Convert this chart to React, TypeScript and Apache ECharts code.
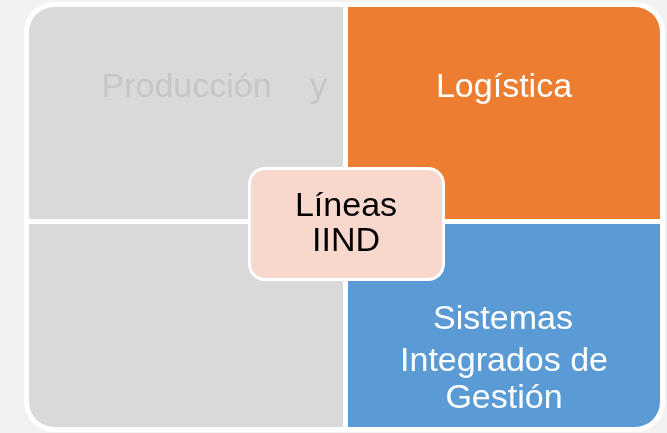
import React, { useEffect, useRef } from "react";
import * as echarts from "echarts";

// Quadrant labels (lines) and the central label
const quadrantNames = ["Producción y", "Logística", "", "Sistemas Integrados de Gestión"];
const topLeftWords = ["Producción", "y"];
const topRightLines = ["Logística"];
const bottomRightLines = ["Sistemas", "Integrados de", "Gestión"];
const centerLines = ["Líneas", "IIND"];
const quadrantColors = ["#d9d9d9", "#ed7d31", "#d9d9d9", "#5b9bd5"];

const FONT = '"Liberation Sans", Arial, sans-serif';

export default function App() {
  const ref = useRef<HTMLDivElement>(null);
  useEffect(() => {
    if (!ref.current) return;
    const chart = echarts.init(ref.current, null, { renderer: "svg" });
    const txt = (text: string, x: number, y: number, fill: string, align = "center") => ({
      type: "text",
      x,
      y,
      z: 10,
      style: {
        text,
        fill,
        font: `34px ${FONT}`,
        align,
        verticalAlign: "middle",
      },
    });
    const L = 29, M1 = 343, M2 = 348, R = 660;
    const T = 7, H1 = 219, H2 = 224, B = 427;
    const rad = 25;
    const elements: any[] = [
      { type: "rect", shape: { x: 0, y: 0, width: 667, height: 433 }, style: { fill: "#f2f2f2" } },
      { type: "rect", shape: { x: 24, y: 2, width: 641, height: 430, r: 30 }, style: { fill: "#ffffff" } },
      { type: "rect", shape: { x: L, y: T, width: M1 - L, height: H1 - T, r: [rad, 0, 0, 0] }, style: { fill: quadrantColors[0] } },
      { type: "rect", shape: { x: M2, y: T, width: R - M2, height: H1 - T, r: [0, rad, 0, 0] }, style: { fill: quadrantColors[1] } },
      { type: "rect", shape: { x: L, y: H2, width: M1 - L, height: B - H2, r: [0, 0, 0, rad] }, style: { fill: quadrantColors[2] } },
      { type: "rect", shape: { x: M2, y: H2, width: R - M2, height: B - H2, r: [0, 0, rad, 0] }, style: { fill: quadrantColors[3] } },
      { type: "rect", z: 5, shape: { x: 248, y: 167, width: 197, height: 114, r: 17 }, style: { fill: "#ffffff" } },
      { type: "rect", z: 6, shape: { x: 251, y: 170, width: 191, height: 108, r: 14 }, style: { fill: "#f8d7cc" } },
      txt(topLeftWords[0], 101.5, 84.5, "#c6c6c6", "left"),
      txt(topLeftWords[1], 310, 84.5, "#c6c6c6", "left"),
      txt(topRightLines[0], 504, 85, "#ffffff"),
      txt(bottomRightLines[0], 503, 317, "#ffffff"),
      txt(bottomRightLines[1], 504, 359, "#ffffff"),
      txt(bottomRightLines[2], 504, 396, "#ffffff"),
      txt(centerLines[0], 346, 204, "#000000"),
      txt(centerLines[1], 346, 239, "#000000"),
    ];
    chart.setOption({
      animation: false,
      graphic: { elements },
    });
    void quadrantNames;
    return () => chart.dispose();
  }, []);
  return (
    <div
      ref={ref}
      style={{ position: "fixed", left: 0, top: 0, width: 667, height: 433 }}
    />
  );
}
